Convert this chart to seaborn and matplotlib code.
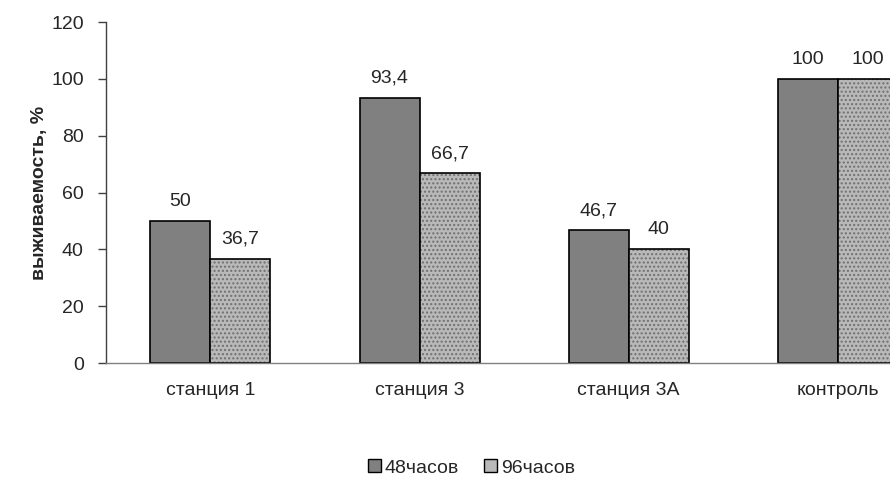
import matplotlib
matplotlib.use("Agg")
import matplotlib.pyplot as plt
import seaborn as sns
import pandas as pd
from matplotlib.patches import Patch

categories = ["станция 1", "станция 3", "станция 3А", "контроль"]
series_names = ["48часов", "96часов"]
values_48 = [50, 93.4, 46.7, 100]
values_96 = [36.7, 66.7, 40, 100]
value_labels_48 = ["50", "93,4", "46,7", "100"]
value_labels_96 = ["36,7", "66,7", "40", "100"]
yticks = [0, 20, 40, 60, 80, 100, 120]

sns.set_style("white")
plt.rcParams['font.family'] = ['Liberation Sans', 'DejaVu Sans']
FS = 14

df = pd.DataFrame({
    "category": categories * 2,
    "series": [series_names[0]] * 4 + [series_names[1]] * 4,
    "value": values_48 + values_96,
})

fig = plt.figure(figsize=(8.9, 4.86), dpi=100)
ax = fig.add_axes([0.119, 0.253, 0.881, 0.7017])

colors = ["#808080", "#b9b9b9"]
sns.barplot(data=df, x="category", y="value", hue="series", order=categories,
            hue_order=series_names, palette=colors, width=0.574, ax=ax,
            edgecolor="black", linewidth=1.2, legend=False, saturation=1)

n = len(categories)
for i, p in enumerate(ax.patches):
    if i >= n:
        p.set_hatch("....")
        p.set_edgecolor("#707070")
        p.set_linewidth(0)
        ax.add_patch(plt.Rectangle((p.get_x(), p.get_y()), p.get_width(), p.get_height(),
                                   fill=False, edgecolor="black", linewidth=1.2,
                                   zorder=p.get_zorder() + 0.1))

labels_all = value_labels_48 + value_labels_96
for i, p in enumerate(ax.patches[:2 * n]):
    ax.text(p.get_x() + p.get_width() / 2, p.get_height() + 5.3, labels_all[i],
            ha="center", va="baseline", fontsize=FS)

ax.set_xlim(-0.5, 3.25)
ax.set_ylim(0, 120)
ax.set_yticks(yticks)
ax.set_xlabel("")
ax.set_ylabel("выживаемость, %", fontsize=FS, fontweight="bold")
ax.yaxis.set_label_coords(-0.074, 0.5)
ax.tick_params(axis="y", which="both", left=True, length=6, width=1, color="#404040",
               labelsize=FS, pad=10)
ax.tick_params(axis="x", bottom=False, labelsize=FS, pad=10)

for s in ["top", "right"]:
    ax.spines[s].set_visible(False)
ax.spines["left"].set_color("#404040")
ax.spines["left"].set_linewidth(1)
ax.spines["bottom"].set_color("#808080")
ax.spines["bottom"].set_linewidth(1)

handles = [Patch(facecolor=colors[0], edgecolor="black", linewidth=1),
           Patch(facecolor=colors[1], edgecolor="black", linewidth=1)]
fig.legend(handles, series_names, loc="center", bbox_to_anchor=(0.53, 0.037),
           ncol=2, frameon=False, handlelength=0.65, handleheight=0.65,
           handletextpad=0.2, columnspacing=1.3, fontsize=FS)

fig.savefig("out.png", dpi=100)
